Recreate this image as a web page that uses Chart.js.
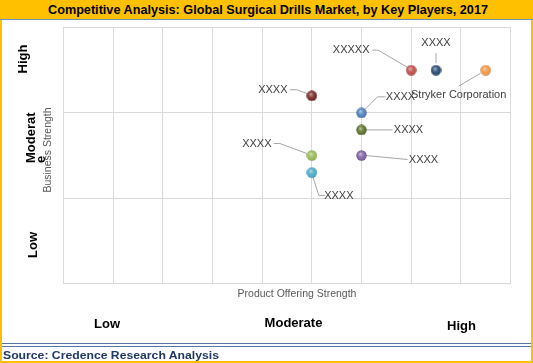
<!DOCTYPE html>
<html>
<head>
<meta charset="utf-8">
<script src="https://cdn.jsdelivr.net/npm/chart.js@4.4.1/dist/chart.umd.min.js"></script>
<style>
  body { margin: 0; background: #fff; font-family: "Liberation Sans", Arial, sans-serif; }
  #wrap { position: relative; width: 533px; height: 363px; overflow: hidden; }
  #chart { position: absolute; left: 0; top: 0; }
  .band { position: absolute; left: 0; top: 0; width: 533px; height: 19px; background: #FFC000; border-bottom: 1px solid #6F8FB5; }
  .fit { position: absolute; white-space: nowrap; font-weight: bold; transform-origin: 0 50%; }
  #title { top: 2px; left: 48px; font-size: 13px; color: #000; line-height: 15px; }
  #source { top: 348px; left: 3px; font-size: 11px; color: #1F3864; line-height: 14px; }
  .edge { position: absolute; background: #FFC000; }
  .rule { position: absolute; left: 2px; width: 529px; height: 1px; background: #5577A6; }
</style>
</head>
<body>
<div id="wrap">
  <canvas id="chart" width="533" height="363"></canvas>
  <div class="band"></div>
  <div id="title" class="fit">Competitive Analysis: Global Surgical Drills Market, by Key Players, 2017</div>
  <div class="edge" style="left:0;top:20px;width:2px;height:343px"></div>
  <div class="edge" style="left:531px;top:20px;width:2px;height:343px"></div>
  <div class="edge" style="left:0;top:361px;width:533px;height:2px"></div>
  <div class="rule" style="top:343px"></div>
  <div class="rule" style="top:346px"></div>
  <div id="source" class="fit">Source: Credence Research Analysis</div>
</div>
<script>
// players and their scores
const players = ["XXXXX", "XXXX", "Stryker Corporation", "XXXX", "XXXX", "XXXX", "XXXX", "XXXX", "XXXX"];
const productStrength = [7, 7.5, 8.5, 5, 6, 6, 6, 5, 5];
const businessStrength = [2.5, 2.5, 2.5, 2.2, 2.0, 1.8, 1.5, 1.5, 1.3];
const levelLabels = ["Low", "Moderate", "High"];

const ballColors = ["#C0504D", "#2C4D75", "#F79646", "#772C2A", "#4F81BD", "#5F7530", "#8064A2", "#9BBB59", "#4BACC6"];

// label text offsets and leader lines, relative to the point (px)
const labelOffsets = [[-60, -20], [0, -27], [-27, 25], [-39, -6], [39, -16], [47, 0], [62, 4], [-55, -12], [27, 23]];
const leaders = [
  [[-39, -20], [-33, -20], [-4, -3]],
  [[0, -17], [0, -7]],
  [[-27, 16], [-5, 3]],
  [[-22, -6], [-15, -6], [-4, -2]],
  [[24, -16], [16, -16], [4, -4]],
  [[4, 0], [31, 0]],
  [[4, 0], [46, 4]],
  [[-38, -12], [-32, -12], [-5, -2]],
  [[1, 4], [7, 23], [13, 23]]
];

function shade(hex, f) {
  const n = parseInt(hex.slice(1), 16);
  let r = n >> 16, g = (n >> 8) & 255, b = n & 255;
  const t = f < 0 ? 0 : 255, p = Math.abs(f);
  r = Math.round(r + (t - r) * p); g = Math.round(g + (t - g) * p); b = Math.round(b + (t - b) * p);
  return "rgb(" + r + "," + g + "," + b + ")";
}

function ball(color) {
  const c = document.createElement("canvas");
  c.width = 11; c.height = 11;
  const g = c.getContext("2d");
  const grad = g.createRadialGradient(4.3, 3.8, 0.3, 5.5, 5.5, 5.6);
  grad.addColorStop(0, shade(color, 0.55));
  grad.addColorStop(0.45, shade(color, 0.1));
  grad.addColorStop(0.8, color);
  grad.addColorStop(1, shade(color, -0.3));
  g.fillStyle = grad;
  g.beginPath();
  g.arc(5.5, 5.5, 5.2, 0, Math.PI * 2);
  g.fill();
  return c;
}

const datasets = players.map((name, i) => ({
  label: name,
  data: [{ x: productStrength[i], y: businessStrength[i] }],
  pointStyle: ball(ballColors[i]),
  pointRadius: 5
}));

const overlay = {
  id: "overlay",
  beforeDatasetsDraw(chart) {
    const ctx = chart.ctx;
    ctx.save();
    ctx.strokeStyle = "#A6A6A6";
    ctx.lineWidth = 1;
    chart.data.datasets.forEach((ds, i) => {
      const p = chart.getDatasetMeta(i).data[0];
      ctx.beginPath();
      leaders[i].forEach(([dx, dy], k) => {
        if (k === 0) ctx.moveTo(p.x + dx, p.y + dy);
        else ctx.lineTo(p.x + dx, p.y + dy);
      });
      ctx.stroke();
    });
    ctx.restore();
  },
  afterDatasetsDraw(chart) {
    const ctx = chart.ctx;
    ctx.save();
    ctx.fillStyle = "#404040";
    ctx.font = '11px "Liberation Sans", Arial, sans-serif';
    ctx.textAlign = "center";
    ctx.textBaseline = "middle";
    chart.data.datasets.forEach((ds, i) => {
      const p = chart.getDatasetMeta(i).data[0];
      ctx.fillText(players[i], p.x + labelOffsets[i][0], p.y + labelOffsets[i][1]);
    });
    ctx.restore();
  },
  afterDraw(chart) {
    const ctx = chart.ctx;
    ctx.save();
    // axis titles
    ctx.fillStyle = "#595959";
    ctx.font = '10.5px "Liberation Sans", Arial, sans-serif';
    ctx.textAlign = "center";
    ctx.textBaseline = "middle";
    ctx.fillText("Product Offering Strength", 297, 294.5);
    ctx.save();
    ctx.translate(48, 150);
    ctx.rotate(-Math.PI / 2);
    ctx.fillText("Business Strength", 0, 0);
    ctx.restore();

    // level labels
    ctx.fillStyle = "#000";
    ctx.font = 'bold 13px "Liberation Sans", Arial, sans-serif';
    ctx.textBaseline = "middle";
    ctx.fillText(levelLabels[0], 107, 324);
    ctx.fillText(levelLabels[1], 293.5, 323);
    ctx.fillText(levelLabels[2], 461.5, 326.5);

    ctx.textBaseline = "alphabetic";
    ctx.save();
    ctx.translate(27, 59);
    ctx.rotate(-Math.PI / 2);
    ctx.fillText(levelLabels[2], 0, 0);
    ctx.restore();
    ctx.save();
    ctx.translate(36.5, 245);
    ctx.rotate(-Math.PI / 2);
    ctx.fillText(levelLabels[0], 0, 0);
    ctx.restore();
    ctx.save();
    ctx.translate(35, 163);
    ctx.rotate(-Math.PI / 2);
    ctx.textAlign = "left";
    ctx.fillText(levelLabels[1].slice(0, -1), 0, 0);
    ctx.fillText(levelLabels[1].slice(-1), 0, 10);
    ctx.restore();
    ctx.restore();
  }
};

new Chart(document.getElementById("chart"), {
  type: "scatter",
  data: { datasets: datasets },
  options: {
    responsive: false,
    animation: false,
    events: [],
    layout: { autoPadding: false, padding: { left: 63.5, top: 27.5, right: 22.5, bottom: 79.5 } },
    plugins: { legend: { display: false }, tooltip: { enabled: false } },
    scales: {
      x: {
        min: 0, max: 9,
        ticks: { display: false, stepSize: 1 },
        grid: { color: "#D9D9D9", drawTicks: false },
        border: { color: "#D9D9D9" }
      },
      y: {
        min: 0, max: 3,
        ticks: { display: false, stepSize: 1 },
        grid: { color: "#D9D9D9", drawTicks: false },
        border: { color: "#D9D9D9" }
      }
    }
  },
  plugins: [overlay]
});

// squeeze the bold header/footer text to the reference widths
function fitWidth(id, target) {
  const el = document.getElementById(id);
  const w = el.getBoundingClientRect().width;
  el.style.transform = "scaleX(" + (target / w) + ")";
}
fitWidth("title", 440);
fitWidth("source", 216);
</script>
</body>
</html>
